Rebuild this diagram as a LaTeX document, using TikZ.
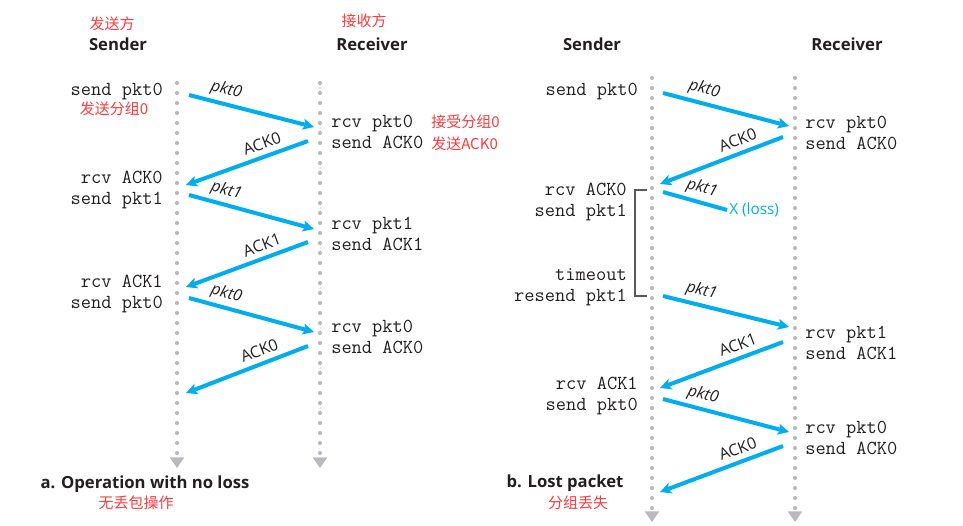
\documentclass[tikz,border=0pt]{standalone}
\usepackage{fontspec}
\setsansfont{Open Sans}
\newfontfamily\cjkfont{Noto Sans CJK SC}
\usepackage{tikz}
\usetikzlibrary{arrows.meta}
\usepackage{tikz-dependency}

\definecolor{pktblue}{RGB}{0,174,239}
\definecolor{cnred}{RGB}{255,59,59}
\definecolor{dotgray}{RGB}{184,186,189}
\definecolor{inkdark}{RGB}{35,31,32}

\begin{document}
\begin{tikzpicture}[x=0.75pt, y=-0.75pt]
            \depstyle{lifeline}{draw=dotgray, line width=3.1pt, line cap=round, dash pattern=on 0pt off 7.5pt, -{Triangle[length=8pt, width=11pt, line width=0pt]}}
            \depstyle{msg}{draw=pktblue, line width=3pt, -{Stealth[length=8.5pt, width=8.5pt, inset=2pt, line width=0pt]}}
            \depstyle{lostmsg}{draw=pktblue, line width=3pt}
            \depstyle{pktlbl}{font=\sffamily\itshape\fontsize{12}{14}\selectfont, text=inkdark, sloped, above, inner sep=3pt}
            \depstyle{acklbl}{font=\sffamily\fontsize{12}{14}\selectfont, text=inkdark, sloped, above=1pt, inner sep=3pt}
            \depstyle{losslbl}{font=\sffamily\fontsize{11.5}{14}\selectfont, text=pktblue, inner sep=1.5pt}
            \depstyle{act}{font=\ttfamily\fontsize{14.9}{15.75}\selectfont, text=inkdark, inner sep=0pt}
            \depstyle{acts}{act, anchor=east, align=right}
            \depstyle{actr}{act, anchor=west, align=left}
            \depstyle{head}{font=\sffamily\bfseries\fontsize{12.5}{15}\selectfont, text=inkdark, inner sep=0pt}
            \depstyle{cnnote}{font=\cjkfont\fontsize{11.25}{16.5}\selectfont, text=cnred, inner sep=0pt}
            \depstyle{brk}{draw=black!65, line width=0.9pt}

            \useasboundingbox (0, 0) rectangle (963, 525);

            % Линии жизни:
            \foreach \n/\x/\ya/\yb in {sa/177/83/468, ra/320/83/468, sb/652/78/522, rb/795/78/522} {
                \coordinate (\n-top) at (\x, \ya);
                \coordinate (\n-bot) at (\x, \yb);
                \draw[lifeline] (\n-top) -- (\n-bot);
            }

            % Заголовки:
            \node[cnnote] (a-cn-s) at (112, 24) {发送方};
            \node[head] (a-sender) at (118, 44) {Sender};
            \node[cnnote] (a-cn-r) at (364, 21) {接收方};
            \node[head] (a-receiver) at (372, 44) {Receiver};
            \node[head] (b-sender) at (592, 44) {Sender};
            \node[head] (b-receiver) at (847, 44) {Receiver};

            % Диаграмма a:
            \foreach \n/\xa/\ya/\xb/\yb/\t/\s/\p in {1/189/95/314/127/pkt0/pktlbl/0.27, 2/308/141/186/185/ACK0/acklbl/0.34, 3/189/195/314/229/pkt1/pktlbl/0.27, 4/308/242/186/287/ACK1/acklbl/0.34, 5/189/298/314/332/pkt0/pktlbl/0.27, 6/308/346/186/393/ACK0/acklbl/0.36} {
                \coordinate (a-\n-s) at (\xa, \ya);
                \coordinate (a-\n-e) at (\xb, \yb);
                \draw[msg] (a-\n-s) -- node[\s, pos=\p] (a-\n-l) {\t} (a-\n-e);
            }

            \node[acts] (a-s1) at (163, 92) {send pkt0};
            \node[cnnote] (a-cn-1) at (114, 109) {发送分组0};
            \node[acts] (a-s2) at (163, 189.5) {rcv ACK0\\send pkt1};
            \node[acts] (a-s3) at (163, 293.5) {rcv ACK1\\send pkt0};

            \node[actr] (a-r1) at (331, 132) {rcv pkt0\\send ACK0};
            \node[cnnote, anchor=west, align=left] (a-cn-2) at (431, 133) {接受分组0\\发送ACK0};
            \node[actr] (a-r2) at (331, 233.5) {rcv pkt1\\send ACK1};
            \node[actr] (a-r3) at (331, 336.5) {rcv pkt0\\send ACK0};

            \node[head] (a-caption) at (145, 484) {a. Operation with no loss};
            \node[cnnote] (a-cn-3) at (136, 503) {无丢包操作};

            % Диаграмма b:
            \foreach \n/\xa/\ya/\xb/\yb/\t/\s/\p in {1/663/93/789/126/pkt0/pktlbl/0.3, 2/783/137/660/184/ACK0/acklbl/0.33, 4/663/296/789/327/pkt1/pktlbl/0.28, 5/783/342/660/388/ACK1/acklbl/0.33, 6/663/399/789/432/pkt0/pktlbl/0.29, 7/783/446/660/492/ACK0/acklbl/0.33} {
                \coordinate (b-\n-s) at (\xa, \ya);
                \coordinate (b-\n-e) at (\xb, \yb);
                \draw[msg] (b-\n-s) -- node[\s, pos=\p] (b-\n-l) {\t} (b-\n-e);
            }

            % Потерянный пакет:
            \coordinate (b-3-s) at (663, 192);
            \coordinate (b-3-e) at (727, 210);
            \draw[lostmsg] (b-3-s) -- node[pktlbl, pos=0.55] (b-3-l) {pkt1} (b-3-e);
            \node[losslbl, anchor=west] (b-loss) at (b-3-e) {X (loss)};

            % Таймаут:
            \coordinate (br-1) at (647, 190);
            \coordinate (br-2) at (635, 190);
            \coordinate (br-3) at (635, 296);
            \coordinate (br-4) at (647, 296);
            \draw[brk] (br-1) -- (br-2) -- (br-3) -- (br-4);

            \node[acts] (b-s1) at (638, 92) {send pkt0};
            \node[acts] (b-s2) at (627, 202) {rcv ACK0\\send pkt1};
            \node[acts] (b-s3) at (627, 287.5) {timeout\\resend pkt1};
            \node[acts] (b-s4) at (638, 396) {rcv ACK1\\send pkt0};

            \node[actr] (b-r1) at (805, 132.5) {rcv pkt0\\send ACK0};
            \node[actr] (b-r2) at (805, 343) {rcv pkt1\\send ACK1};
            \node[actr] (b-r3) at (805, 438) {rcv pkt0\\send ACK0};

            \node[head] (b-caption) at (565, 483) {b. Lost packet};
            \node[cnnote] (b-cn-1) at (578, 503) {分组丢失};
\end{tikzpicture}
\end{document}
